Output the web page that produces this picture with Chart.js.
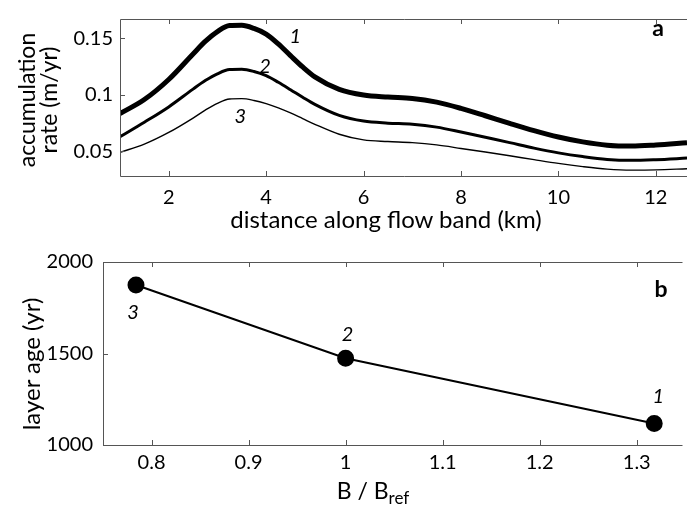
<!DOCTYPE html>
<html>
<head>
<meta charset="utf-8">
<script src="https://cdn.jsdelivr.net/npm/chart.js@4.4.1/dist/chart.umd.min.js"></script>
<style>
  body { margin: 0; background: #fff; }
  #wrap { position: relative; width: 687px; height: 512px; overflow: hidden; font-family: Lato, sans-serif; color: #000; }
  .panel { position: absolute; left: 0; width: 687px; }
  .lbl { position: absolute; white-space: nowrap; font-size: 24px; line-height: 22px; }
  .rot { transform: translate(-50%, -50%) rotate(-90deg); text-align: center; }
  sub { font-size: 17px; vertical-align: -5px; }
</style>
</head>
<body>
<div id="wrap">
  <div class="panel" style="top:0;height:240px"><canvas id="chartA" width="687" height="240"></canvas></div>
  <div class="panel" style="top:240px;height:272px"><canvas id="chartB" width="687" height="272"></canvas></div>
  <div class="lbl rot" style="left:37px;top:100px;font-size:23px">accumulation<br>rate (m/yr)</div>
  <div class="lbl" style="left:386px;top:219px;transform:translate(-50%,-50%)">distance along flow band (km)</div>
  <div class="lbl rot" style="left:31px;top:364px">layer age (yr)</div>
  <div class="lbl" style="left:373px;top:494px;transform:translate(-50%,-50%);font-size:23px">B / B<sub>ref</sub></div>
</div>
<script>
// panel a: accumulation rate along the flow band
const distanceKm = [1, 1.5, 2, 2.5, 2.75, 3, 3.25, 3.5, 3.75, 4, 4.25, 4.5, 4.75, 5, 5.5, 6, 6.5, 7, 7.5, 8, 8.5, 9, 9.5, 10, 10.5, 11, 11.5, 12, 12.64];
const rateRun1 = [0.0834, 0.0958, 0.1135, 0.136, 0.147, 0.1557, 0.161, 0.1612, 0.1585, 0.1535, 0.1448, 0.1345, 0.1245, 0.1158, 0.1048, 0.0998, 0.098, 0.0968, 0.0935, 0.088, 0.0815, 0.0748, 0.0684, 0.0628, 0.0585, 0.0556, 0.0548, 0.0558, 0.0578];
const rateRun2 = [0.063, 0.0758, 0.0893, 0.105, 0.1125, 0.1185, 0.1222, 0.1224, 0.1205, 0.1168, 0.111, 0.1045, 0.0978, 0.0915, 0.0818, 0.0768, 0.075, 0.074, 0.0715, 0.0672, 0.0625, 0.0578, 0.053, 0.0488, 0.0455, 0.043, 0.0422, 0.0428, 0.0442];
const rateRun3 = [0.0492, 0.0565, 0.0668, 0.0795, 0.0865, 0.0925, 0.0963, 0.0966, 0.095, 0.0922, 0.0885, 0.084, 0.079, 0.074, 0.0652, 0.0602, 0.0588, 0.0578, 0.0558, 0.0527, 0.0495, 0.0462, 0.0428, 0.0395, 0.0367, 0.0345, 0.0336, 0.0338, 0.0348];
const curveLabels = ['1', '2', '3'];
const curveLabelPos = [[4.6, 0.1516], [3.98, 0.1252], [3.47, 0.0812]];

// panel b: layer age against B / Bref
const bRatio = [0.784, 1.0, 1.318];
const layerAge = [1874, 1474, 1118];
const runLabels = ['3', '2', '1'];

const xTicksA = [2, 4, 6, 8, 10, 12];
const yTicksA = [0.05, 0.1, 0.15];
const xTicksB = [0.8, 0.9, 1, 1.1, 1.2, 1.3];
const yTicksB = [1000, 1500, 2000];

const frameColor = '#555';
const tickFont = { family: 'Lato, sans-serif', size: 20 };

function toPoints(xs, ys) {
    return xs.map((x, i) => ({ x: x, y: ys[i] }));
}

function fixedTicks(values) {
    return function (scale) {
        scale.ticks = values.map(v => ({ value: v }));
    };
}

// MATLAB-like box: left, top and bottom lines with ticks pointing inward
const framePlugin = {
    id: 'frame',
    afterDraw(chart) {
        const { ctx, chartArea: a, scales } = chart;
        ctx.save();
        ctx.strokeStyle = frameColor;
        ctx.lineWidth = 1;
        ctx.beginPath();
        ctx.moveTo(a.right + 5, a.top + 0.5);
        ctx.lineTo(a.left + 0.5, a.top + 0.5);
        ctx.lineTo(a.left + 0.5, a.bottom + 0.5);
        ctx.lineTo(a.right + 5, a.bottom + 0.5);
        scales.x.ticks.forEach(t => {
            const px = Math.round(scales.x.getPixelForValue(t.value)) + 0.5;
            ctx.moveTo(px, a.top);
            ctx.lineTo(px, a.top + 5);
            ctx.moveTo(px, a.bottom);
            ctx.lineTo(px, a.bottom - 5);
        });
        scales.y.ticks.forEach(t => {
            const py = Math.round(scales.y.getPixelForValue(t.value)) + 0.5;
            ctx.moveTo(a.left, py);
            ctx.lineTo(a.left + 5, py);
        });
        ctx.stroke();
        ctx.restore();
    }
};

// italic run numbers and bold panel letters
const labelPlugin = {
    id: 'labels',
    afterDatasetsDraw(chart, args, opts) {
        const { ctx, scales } = chart;
        ctx.save();
        ctx.fillStyle = '#000';
        ctx.textAlign = 'center';
        ctx.textBaseline = 'middle';
        ctx.font = 'italic 20px Lato, sans-serif';
        opts.items.forEach(it => {
            ctx.fillText(it.text,
                scales.x.getPixelForValue(it.x) + (it.dx || 0),
                scales.y.getPixelForValue(it.y) + (it.dy || 0));
        });
        ctx.font = 'bold 23px Lato, sans-serif';
        ctx.fillText(opts.panel, opts.panelX, opts.panelY);
        ctx.restore();
    }
};

const scaleBase = {
    type: 'linear',
    grid: { display: false, drawTicks: false },
    border: { display: false },
    ticks: { color: '#000', font: tickFont, includeBounds: false }
};

new Chart(document.getElementById('chartA'), {
    type: 'line',
    data: {
        datasets: [
            { data: toPoints(distanceKm, rateRun1), borderWidth: 5 },
            { data: toPoints(distanceKm, rateRun2), borderWidth: 3 },
            { data: toPoints(distanceKm, rateRun3), borderWidth: 1.4 }
        ].map(d => Object.assign(d, {
            borderColor: '#000',
            pointRadius: 0,
            cubicInterpolationMode: 'monotone',
            fill: false
        }))
    },
    options: {
        responsive: false,
        animation: false,
        layout: { padding: { top: 3, right: 0, left: 0, bottom: 0 } },
        plugins: {
            legend: { display: false },
            tooltip: { enabled: false },
            labels: {
                items: curveLabels.map((t, i) => ({ text: t, x: curveLabelPos[i][0], y: curveLabelPos[i][1] })),
                panel: 'a', panelX: 658, panelY: 29
            }
        },
        scales: {
            x: Object.assign({}, scaleBase, {
                min: 1, max: 12.64,
                afterBuildTicks: fixedTicks(xTicksA),
                afterFit: s => { s.height = 64; },
                ticks: Object.assign({}, scaleBase.ticks, { padding: 10 })
            }),
            y: Object.assign({}, scaleBase, {
                min: 0.0284, max: 0.1668,
                afterBuildTicks: fixedTicks(yTicksA),
                afterFit: s => { s.width = 120; },
                ticks: Object.assign({}, scaleBase.ticks, {
                    padding: 7,
                    callback: v => String(+v.toFixed(2))
                })
            })
        }
    },
    plugins: [framePlugin, labelPlugin]
});

new Chart(document.getElementById('chartB'), {
    type: 'line',
    data: {
        datasets: [{
            data: toPoints(bRatio, layerAge),
            borderColor: '#000',
            borderWidth: 2,
            pointRadius: 7.5,
            pointBackgroundColor: '#000',
            pointBorderColor: '#000',
            tension: 0
        }]
    },
    options: {
        responsive: false,
        animation: false,
        layout: { padding: { top: 22, right: 0, left: 0, bottom: 0 } },
        plugins: {
            legend: { display: false },
            tooltip: { enabled: false },
            labels: {
                items: [
                    { text: runLabels[0], x: bRatio[0], y: layerAge[0], dx: -3, dy: 27 },
                    { text: runLabels[1], x: bRatio[1], y: layerAge[1], dx: 2, dy: -24 },
                    { text: runLabels[2], x: bRatio[2], y: layerAge[2], dx: 4, dy: -27 }
                ],
                panel: 'b', panelX: 661, panelY: 50
            }
        },
        scales: {
            x: Object.assign({}, scaleBase, {
                min: 0.75, max: 1.342,
                afterBuildTicks: fixedTicks(xTicksB),
                afterFit: s => { s.height = 67; },
                ticks: Object.assign({}, scaleBase.ticks, {
                    padding: 6,
                    callback: v => String(+v.toFixed(1))
                })
            }),
            y: Object.assign({}, scaleBase, {
                min: 1000, max: 2000,
                afterBuildTicks: fixedTicks(yTicksB),
                afterFit: s => { s.width = 103; },
                ticks: Object.assign({}, scaleBase.ticks, {
                    padding: 10,
                    callback: v => String(v)
                })
            })
        }
    },
    plugins: [framePlugin, labelPlugin]
});
</script>
</body>
</html>
